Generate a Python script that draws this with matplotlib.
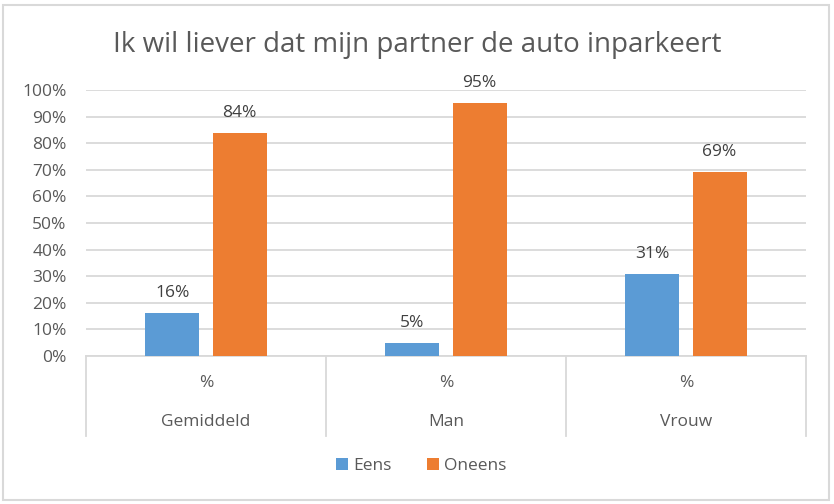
import matplotlib.pyplot as plt
import numpy as np
from matplotlib.patches import Rectangle

plt.rcParams["font.family"] = ["Open Sans", "DejaVu Sans"]

title = "Ik wil liever dat mijn partner de auto inparkeert"
groups = ["Gemiddeld", "Man", "Vrouw"]
sublabel = "%"
series = ["Eens", "Oneens"]
eens = [16, 5, 31]
oneens = [84, 95, 69]
colors = {"Eens": "#5B9BD5", "Oneens": "#ED7D31"}
text_col = "#595959"
grid_col = "#D9D9D9"

fig = plt.figure(figsize=(8.34, 5.04), dpi=100)
W, H = 834, 504
ax = fig.add_axes([86 / W, 1 - 356 / H, 720 / W, 266 / H])

x = np.arange(len(groups))
width = 0.225
for vals, name, off in [(eens, "Eens", -0.14), (oneens, "Oneens", 0.14)]:
    bars = ax.bar(x + off, vals, width, color=colors[name], label=name, zorder=3)
    for b, v in zip(bars, vals):
        ax.text(b.get_x() + b.get_width() / 2, v + 4.5, f"{v}%", ha="center", va="bottom",
                fontsize=12.5, color="#404040")

ax.set_xlim(-0.5, len(groups) - 0.5)
ax.set_ylim(0, 100)
ax.set_yticks(range(0, 101, 10))
ax.set_yticklabels([f"{v}%" for v in range(0, 101, 10)], fontsize=12.5, color=text_col)
ax.tick_params(axis="y", length=0, pad=14)
ax.set_xticks([])
ax.grid(axis="y", color=grid_col, lw=1.3, zorder=0)
for s in ["top", "right", "left"]:
    ax.spines[s].set_visible(False)
ax.spines["bottom"].set_color(grid_col)
ax.spines["bottom"].set_linewidth(1.3)

# two-level category axis
for i in range(len(groups) + 1):
    ax.plot([i - 0.5, i - 0.5], [0, -0.30], transform=ax.get_xaxis_transform(),
            color=grid_col, lw=1.3, clip_on=False)
for i, g in enumerate(groups):
    ax.text(i, -0.10, sublabel, transform=ax.get_xaxis_transform(), ha="center", va="center",
            fontsize=12.5, color=text_col)
    ax.text(i, -0.25, g, transform=ax.get_xaxis_transform(), ha="center", va="center",
            fontsize=12.5, color=text_col)

fig.text(0.5, 1 - 45 / H, title, ha="center", va="center", fontsize=20, color=text_col)
fig.legend(loc="center", bbox_to_anchor=(0.505, 1 - 466 / H), ncol=2, frameon=False,
           fontsize=12.5, labelcolor=text_col, handlelength=0.7, handleheight=0.7,
           handletextpad=0.3, columnspacing=2.0)
fig.patches.append(Rectangle((3 / W, 4 / H), 826 / W, 495 / H, transform=fig.transFigure,
                             fill=False, edgecolor=grid_col, lw=1.5))

fig.savefig("out.png", dpi=100)
